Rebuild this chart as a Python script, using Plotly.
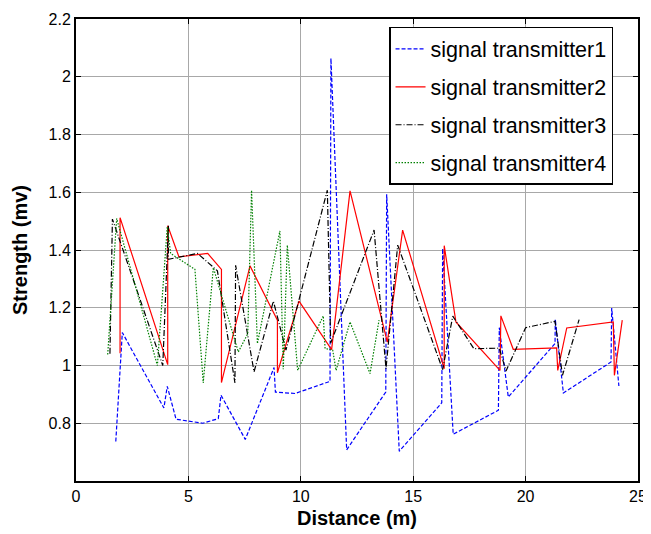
import plotly.graph_objects as go

# transmitter 1 (blue dashed)
x1 = [1.77, 2.06, 3.91, 4.06, 4.45, 5.64, 6.33, 6.45, 7.53, 8.81, 8.87, 9.74, 11.30, 11.34,
      12.04, 13.78, 13.82, 14.38, 16.27, 16.31, 16.78, 18.79, 18.83, 19.23, 21.31, 21.32,
      21.68, 23.80, 23.83, 24.15]
y1 = [0.737, 1.114, 0.853, 0.928, 0.814, 0.800, 0.816, 0.897, 0.744, 0.993, 0.908, 0.903, 0.945, 2.064,
      0.708, 0.908, 1.593, 0.703, 0.871, 1.405, 0.762, 0.845, 1.131, 0.891, 1.076, 1.160,
      0.905, 1.012, 1.199, 0.929]

# transmitter 2 (red solid)
x2 = [1.96, 1.96, 4.08, 4.08, 4.58, 5.86, 6.47, 6.47, 7.74, 8.96, 8.96, 9.92, 11.37, 12.19,
      13.85, 14.53, 16.38, 16.38, 16.90, 18.86, 18.90, 19.45, 21.38, 21.43, 21.83, 23.90, 23.95, 24.30]
y2 = [1.042, 1.512, 1.003, 1.484, 1.376, 1.388, 1.333, 0.941, 1.345, 1.157, 0.975, 1.223, 1.055, 1.605,
      1.081, 1.469, 0.989, 1.415, 1.151, 0.983, 1.172, 1.056, 1.061, 0.983, 1.130, 1.151, 0.966, 1.157]

# transmitter 3 (black dash-dot)
x3 = [1.51, 1.62, 3.86, 4.11, 4.11, 5.41, 6.29, 7.07, 7.10, 7.92, 8.78, 9.34, 11.18, 11.33,
      13.26, 13.79, 14.31, 16.31, 16.76, 17.70, 18.83, 19.13, 20.00, 21.31, 21.64, 22.38]
y3 = [1.041, 1.507, 1.000, 1.484, 1.368, 1.388, 1.328, 0.940, 1.347, 0.978, 1.223, 1.053, 1.607, 1.078,
      1.469, 0.989, 1.417, 0.986, 1.171, 1.058, 1.060, 0.981, 1.131, 1.153, 0.966, 1.159]

# transmitter 4 (green dotted)
x4 = [1.41, 1.81, 3.62, 4.06, 4.21, 5.29, 5.66, 6.11, 7.22, 7.64, 7.81, 8.07, 9.07, 9.22, 9.40,
      9.86, 11.00, 11.08, 11.42, 11.57, 12.19, 13.08, 13.48]
y4 = [1.038, 1.509, 1.000, 1.480, 1.388, 1.333, 0.940, 1.339, 1.047, 1.110, 1.607, 1.076, 1.466, 0.987, 1.417,
      0.983, 1.172, 1.059, 1.053, 0.983, 1.151, 0.972, 1.157]

names = ["signal transmitter1", "signal transmitter2", "signal transmitter3", "signal transmitter4"]
x_ticks = [0, 5, 10, 15, 20, 25]
y_ticks = [0.8, 1.0, 1.2, 1.4, 1.6, 1.8, 2.0, 2.2]
y_tick_text = ["0.8", "1", "1.2", "1.4", "1.6", "1.8", "2", "2.2"]

series = [(x1, y1, "#0000ff", "4px,2px"), (x2, y2, "#ff0000", "solid"),
          (x3, y3, "#000000", "6px,2px,1px,2px"), (x4, y4, "#008000", "1.5px,1.5px")]

fig = go.Figure()
for i, ((xs, ys, col, dash), nm) in enumerate(zip(series, names)):
    fig.add_trace(go.Scatter(x=xs, y=ys, mode="lines", name=nm, legendgroup=f"g{i}",
                             line=dict(color=col, width=1.2, dash=dash)))

axis_common = dict(showline=True, linecolor="black", linewidth=2, mirror="ticks",
                   ticks="inside", ticklen=5, tickcolor="black", automargin=False,
                   showgrid=True, gridcolor="#a8a8a8", gridwidth=1, zeroline=False,
                   tickfont=dict(family="Liberation Sans, Arial", size=16, color="black"))

# page body has an 8px margin, so the figure is sized to fit the window after it
fig.update_layout(
    width=643, height=526,
    margin=dict(l=68, r=13, t=11, b=53),
    paper_bgcolor="white", plot_bgcolor="white",
    font=dict(family="Liberation Sans, Arial", color="black"),
    xaxis=dict(range=[0, 25], tickvals=x_ticks,
               title=dict(text="<b>Distance (m)</b>", font=dict(size=20), standoff=7),
               **axis_common),
    yaxis=dict(range=[0.6, 2.2], tickvals=y_ticks, ticktext=y_tick_text,
               title=dict(text="<b>Strength (mv)</b>", font=dict(size=20), standoff=16),
               **axis_common),
    legend=dict(x=0.557, y=0.983, xanchor="left", yanchor="top",
                bordercolor="black", borderwidth=1.5, bgcolor="white",
                font=dict(size=21.5, family="Liberation Sans, Arial"),
                tracegroupgap=7, traceorder="grouped", itemwidth=30),
    showlegend=True,
)

fig.write_html("out.html")
